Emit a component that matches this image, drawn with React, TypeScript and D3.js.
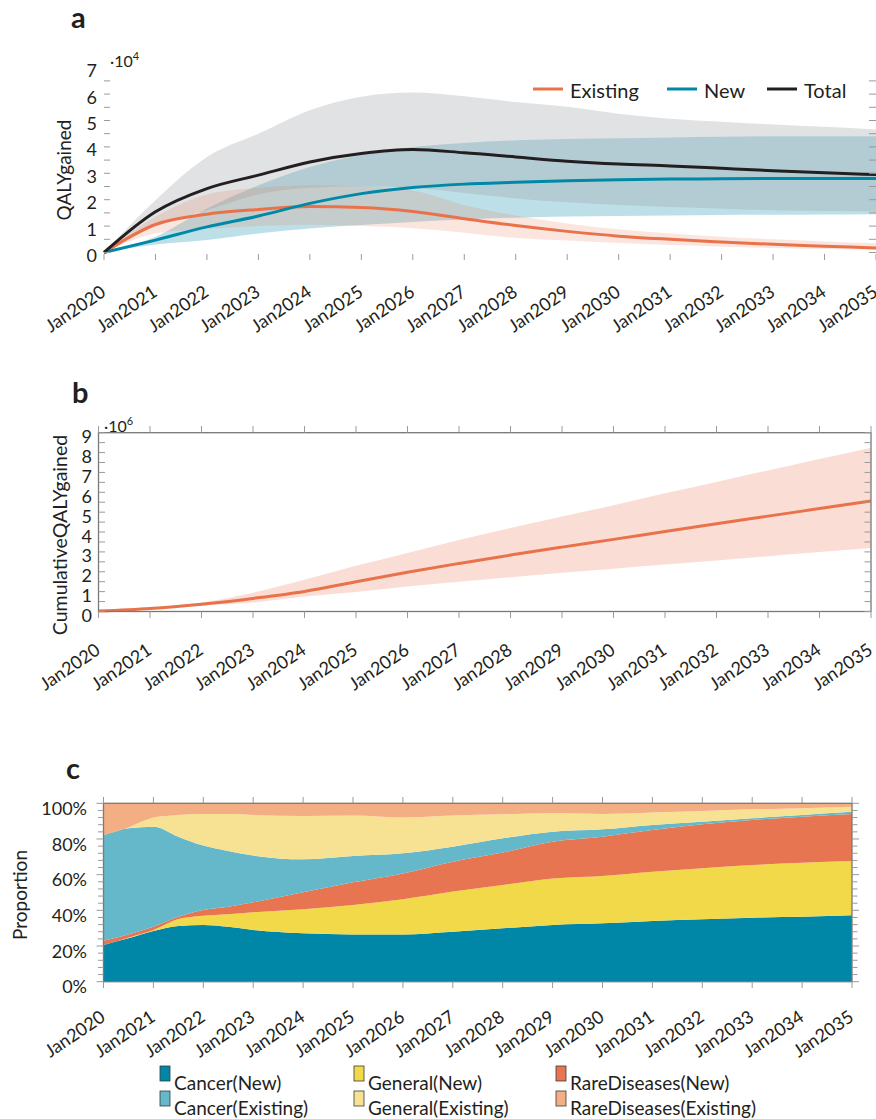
import React from "react";
import * as d3 from "d3";

const FONT = "Lato, 'Open Sans', 'DejaVu Sans', sans-serif";
const TEXT = "#231f20";
const TICK = "#9a9a9a";
const FRAME = "#7d7773";

// ---------- shared time axis ----------
const years = [2020, 2021, 2022, 2023, 2024, 2025, 2026, 2027, 2028, 2029, 2030, 2031, 2032, 2033, 2034, 2035];
const yearLabels = [
  "Jan2020", "Jan2021", "Jan2022", "Jan2023", "Jan2024", "Jan2025", "Jan2026", "Jan2027",
  "Jan2028", "Jan2029", "Jan2030", "Jan2031", "Jan2032", "Jan2033", "Jan2034", "Jan2035",
];

// ---------- panel a: monthly QALY gained (x 10^4) ----------
const existingMean = [0, 1.06, 1.45, 1.63, 1.74, 1.7, 1.55, 1.28, 1.02, 0.8, 0.62, 0.5, 0.4, 0.31, 0.24, 0.17];
const existingLo = [0, 0.72, 0.9, 1.0, 1.05, 1.0, 0.92, 0.75, 0.55, 0.45, 0.36, 0.28, 0.22, 0.17, 0.13, 0.1];
const existingHi = [0, 1.35, 2.2, 2.45, 2.55, 2.5, 2.35, 1.8, 1.4, 1.1, 0.88, 0.72, 0.6, 0.5, 0.42, 0.35];

const newMean = [0, 0.47, 0.97, 1.38, 1.86, 2.23, 2.46, 2.59, 2.66, 2.72, 2.76, 2.78, 2.79, 2.8, 2.8, 2.8];
const newLo = [0, 0.3, 0.47, 0.72, 0.91, 1.04, 1.16, 1.25, 1.32, 1.36, 1.38, 1.4, 1.42, 1.43, 1.44, 1.45];
const newHi = [0, 0.6, 1.67, 2.55, 3.24, 3.69, 4.0, 4.15, 4.25, 4.3, 4.33, 4.36, 4.38, 4.4, 4.4, 4.4];

const totalMean = [0, 1.54, 2.42, 2.93, 3.43, 3.75, 3.9, 3.78, 3.62, 3.46, 3.35, 3.28, 3.19, 3.1, 3.02, 2.95];
const totalLo = [0, 1.0, 1.6, 2.2, 2.45, 2.5, 2.45, 2.25, 2.05, 1.9, 1.8, 1.72, 1.66, 1.6, 1.57, 1.55];
const totalHi = [0, 1.98, 3.62, 4.5, 5.39, 5.9, 6.06, 5.92, 5.7, 5.52, 5.26, 5.07, 4.95, 4.85, 4.76, 4.66];

const aTickLabels = ["0", "1", "2", "3", "4", "5", "6", "7"];

// ---------- panel b: cumulative QALY gained (x 10^6) ----------
const cumMean = [0.02, 0.15, 0.37, 0.66, 1.01, 1.5, 1.98, 2.42, 2.84, 3.24, 3.63, 4.03, 4.42, 4.8, 5.18, 5.56];
const cumLo = [0.02, 0.13, 0.3, 0.45, 0.75, 0.98, 1.26, 1.5, 1.73, 1.95, 2.15, 2.36, 2.57, 2.78, 2.99, 3.2];
const cumHi = [0.02, 0.17, 0.45, 0.95, 1.6, 2.3, 2.95, 3.6, 4.2, 4.78, 5.35, 5.95, 6.52, 7.1, 7.67, 8.24];
const bTickLabels = ["0", "1", "2", "3", "4", "5", "6", "7", "8", "9"];

// ---------- panel c: share of QALY gained by area (%) ----------
const cTimes = [2020, 2020.5, 2021, 2021.5, 2022, 2022.5, 2023, 2024, 2025, 2026, 2027, 2028, 2029, 2030, 2031, 2032, 2033, 2034, 2035];
const cancerNew = [20.6, 24.3, 28.4, 31.2, 31.8, 30.8, 29.0, 27.1, 26.5, 26.5, 28.0, 29.9, 31.8, 32.7, 34.0, 35.0, 35.9, 36.4, 37.2];
const generalNew = [0, 0.4, 0.6, 3.9, 5.2, 7.0, 9.9, 13.5, 16.5, 19.7, 22.5, 24.3, 26.1, 26.6, 27.7, 28.6, 29.5, 30.3, 30.5];
const rareNew = [2.4, 1.8, 1.8, 1.3, 3.2, 4.2, 5.6, 9.5, 12.7, 14.5, 16.8, 18.2, 20.6, 22.0, 23.3, 24.6, 25.3, 25.8, 26.3];
const cancerExisting = [59.2, 59.5, 56.1, 44.9, 36.1, 31.3, 26.2, 18.5, 14.8, 11.3, 8.4, 8.0, 5.6, 4.1, 2.9, 1.5, 0.9, 1.0, 1.3];
const generalExisting = [0, 0.5, 5.1, 12.2, 17.7, 20.7, 22.8, 24.3, 22.6, 20.0, 17.4, 13.4, 10.3, 8.6, 6.9, 6.0, 5.0, 3.7, 2.8];
const rareExisting = [17.8, 13.5, 8.0, 6.5, 6.0, 6.0, 6.5, 7.1, 6.9, 8.0, 6.9, 6.2, 5.6, 6.0, 5.2, 4.3, 3.4, 2.8, 1.9];

const cKeys = ["Cancer(New)", "General(New)", "RareDiseases(New)", "Cancer(Existing)", "General(Existing)", "RareDiseases(Existing)"];
const cSeries = [cancerNew, generalNew, rareNew, cancerExisting, generalExisting, rareExisting];
const cColors = ["#0087a7", "#f2d94a", "#e87552", "#65b8c9", "#f7e293", "#f4ae83"];
const cTickLabels = ["0%", "20%", "40%", "60%", "80%", "100%"];

const ORANGE = "#e9724b";
const TEAL = "#0088a7";
const BLACK = "#231f20";

function XTickLabels({ scale, y }: { scale: d3.ScaleLinear<number, number>; y: number }) {
  return (
    <g fontSize={18} fill={TEXT}>
      {years.map((yr, i) => (
        <text key={yr} transform={`translate(${scale(yr) + 3},${y}) rotate(-34)`} textAnchor="end">
          {yearLabels[i]}
        </text>
      ))}
    </g>
  );
}

function Multiplier({ x, y, exp }: { x: number; y: number; exp: string }) {
  return (
    <text x={x} y={y} fontSize={16} fill={TEXT}>
      ·10
      <tspan dy={-7} fontSize={11}>{exp}</tspan>
    </text>
  );
}

function PanelA() {
  const x = d3.scaleLinear().domain([2020, 2035]).range([104, 876]);
  const y = d3.scaleLinear().domain([0, 7]).range([252.5, 67.7]);
  const band = (lo: number[], hi: number[]) =>
    d3
      .area<number>()
      .x((d) => x(d))
      .y0((_, i) => y(lo[i]))
      .y1((_, i) => y(hi[i]))
      .curve(d3.curveMonotoneX)(years) as string;
  const line = (v: number[]) =>
    d3
      .line<number>()
      .x((d) => x(d))
      .y((_, i) => y(v[i]))
      .curve(d3.curveMonotoneX)(years) as string;
  const minor = d3.range(0, 6.51, 0.5);
  const legend = [
    { label: "Existing", color: ORANGE, x: 533 },
    { label: "New", color: TEAL, x: 667 },
    { label: "Total", color: BLACK, x: 767 },
  ];
  return (
    <g>
      <text x={71} y={28} fontSize={29} fontWeight={700} fill={TEXT}>a</text>
      {/* uncertainty bands */}
      <path d={band(newLo, newHi)} fill={TEAL} fillOpacity={0.26} />
      <path d={band(totalLo, totalHi)} fill="#9b9ea5" fillOpacity={0.3} />
      <path d={band(existingLo, existingHi)} fill={ORANGE} fillOpacity={0.18} />
      {/* mean trajectories */}
      <path d={line(existingMean)} fill="none" stroke={ORANGE} strokeWidth={3} />
      <path d={line(newMean)} fill="none" stroke={TEAL} strokeWidth={3} />
      <path d={line(totalMean)} fill="none" stroke={BLACK} strokeWidth={3} />
      {/* ticks */}
      {minor.map((v) => (
        <g key={v}>
          <line x1={104} x2={110} y1={y(v)} y2={y(v)} stroke={TICK} strokeWidth={1} />
          <line x1={869} x2={876} y1={y(v)} y2={y(v)} stroke={TICK} strokeWidth={1} />
        </g>
      ))}
      {years.map((yr) => (
        <line key={yr} x1={x(yr)} x2={x(yr)} y1={254} y2={260} stroke={TICK} strokeWidth={1} />
      ))}
      <g fontSize={18} fill={TEXT} textAnchor="end">
        {aTickLabels.map((t, i) => (
          <text key={t} x={97} y={y(i) + 5} dominantBaseline="middle">{t}</text>
        ))}
      </g>
      <Multiplier x={110} y={67} exp="4" />
      <text transform="translate(71,170) rotate(-90)" textAnchor="middle" fontSize={19} fill={TEXT}>QALYgained</text>
      <XTickLabels scale={x} y={295} />
      {legend.map((l) => (
        <g key={l.label}>
          <line x1={l.x} x2={l.x + 30} y1={89} y2={89} stroke={l.color} strokeWidth={3} />
          <text x={l.x + 37} y={98} fontSize={20} fill={TEXT}>{l.label}</text>
        </g>
      ))}
    </g>
  );
}

function PanelB() {
  const x = d3.scaleLinear().domain([2020, 2035]).range([98.5, 871]);
  const y = d3.scaleLinear().domain([0, 9]).range([611.5, 432.7]);
  const area = d3
    .area<number>()
    .x((d) => x(d))
    .y0((_, i) => y(cumLo[i]))
    .y1((_, i) => y(cumHi[i]))
    .curve(d3.curveMonotoneX)(years) as string;
  const line = d3
    .line<number>()
    .x((d) => x(d))
    .y((_, i) => y(cumMean[i]))
    .curve(d3.curveMonotoneX)(years) as string;
  const minor = d3.range(0, 9.01, 0.5);
  return (
    <g>
      <text x={72} y={403} fontSize={29} fontWeight={700} fill={TEXT}>b</text>
      <path d={area} fill={ORANGE} fillOpacity={0.24} />
      <path d={line} fill="none" stroke={ORANGE} strokeWidth={3} />
      <rect x={98.5} y={432.7} width={871 - 98.5} height={611.5 - 432.7} fill="none" stroke={FRAME} strokeWidth={1.3} />
      {minor.map((v) => (
        <g key={v}>
          <line x1={98.5} x2={105} y1={y(v)} y2={y(v)} stroke={TICK} />
          <line x1={864.5} x2={871} y1={y(v)} y2={y(v)} stroke={TICK} />
        </g>
      ))}
      {years.map((yr) => (
        <g key={yr}>
          <line x1={x(yr)} x2={x(yr)} y1={426} y2={432.7} stroke={TICK} />
          <line x1={x(yr)} x2={x(yr)} y1={611.5} y2={618} stroke={TICK} />
        </g>
      ))}
      <g fontSize={18} fill={TEXT} textAnchor="end">
        {bTickLabels.map((t, i) => (
          <text key={t} x={92} y={y(i) + 6} dominantBaseline="middle">{t}</text>
        ))}
      </g>
      <Multiplier x={104} y={432} exp="6" />
      <text transform="translate(67,535) rotate(-90)" textAnchor="middle" fontSize={19.5} fill={TEXT}>CumulativeQALYgained</text>
      <XTickLabels scale={x} y={653} />
    </g>
  );
}

function PanelC() {
  const x = d3.scaleLinear().domain([2020, 2035]).range([103.5, 852]);
  const y = d3.scaleLinear().domain([0, 100]).range([981.7, 803.3]);
  const rows = cTimes.map((t, i) => {
    const r: Record<string, number> = { t };
    cKeys.forEach((k, j) => (r[k] = cSeries[j][i]));
    return r;
  });
  const stacked = d3.stack<Record<string, number>>().keys(cKeys)(rows);
  const area = d3
    .area<d3.SeriesPoint<Record<string, number>>>()
    .x((d) => x(d.data.t))
    .y0((d) => y(d[0]))
    .y1((d) => y(d[1]))
    .curve(d3.curveMonotoneX);
  const minor = d3.range(0, 100.1, 4);
  const legendX = [160, 354, 556];
  return (
    <g>
      <text x={66} y={779} fontSize={29} fontWeight={700} fill={TEXT}>c</text>
      {stacked.map((s, i) => (
        <path key={s.key} d={area(s) as string} fill={cColors[i]} />
      ))}
      <rect x={103.5} y={803.3} width={852 - 103.5} height={981.7 - 803.3} fill="none" stroke={FRAME} strokeWidth={1.3} />
      {minor.map((v) => (
        <g key={v}>
          <line x1={v % 20 === 0 ? 96.5 : 98} x2={103.5} y1={y(v)} y2={y(v)} stroke={TICK} />
          <line x1={852} x2={v % 20 === 0 ? 859 : 857.5} y1={y(v)} y2={y(v)} stroke={TICK} />
        </g>
      ))}
      {years.map((yr) => (
        <g key={yr}>
          <line x1={x(yr)} x2={x(yr)} y1={797} y2={803.3} stroke={TICK} />
          <line x1={x(yr)} x2={x(yr)} y1={981.7} y2={988} stroke={TICK} />
        </g>
      ))}
      <g fontSize={18} fill={TEXT} textAnchor="end">
        {cTickLabels.map((t, i) => (
          <text key={t} x={87} y={y(i * 20) + 7} dominantBaseline="middle">{t}</text>
        ))}
      </g>
      <text transform="translate(27,895) rotate(-90)" textAnchor="middle" fontSize={19} fill={TEXT}>Proportion</text>
      <XTickLabels scale={x} y={1020} />
      {cKeys.map((k, i) => {
        const col = i % 3;
        const row = Math.floor(i / 3);
        const lx = legendX[col];
        const ly = 1066 + row * 25;
        return (
          <g key={k}>
            <rect x={lx} y={ly} width={10} height={15} fill={cColors[i]} stroke="#3a3a3a" strokeWidth={0.8} />
            <text x={lx + 14} y={ly + 24} fontSize={19} fill={TEXT}>{k}</text>
          </g>
        );
      })}
    </g>
  );
}

export default function App() {
  return (
    <svg
      width={876}
      height={1119}
      viewBox="0 0 876 1119"
      style={{ position: "absolute", left: 0, top: 0, background: "#fff" }}
      fontFamily={FONT}
    >
      <PanelA />
      <PanelB />
      <PanelC />
    </svg>
  );
}
